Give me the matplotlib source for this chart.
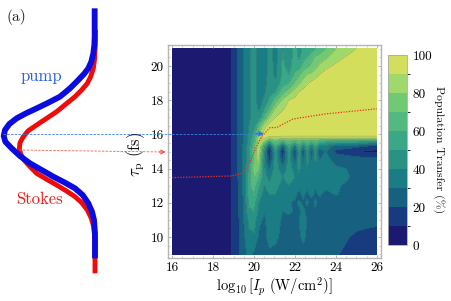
import numpy as np
import matplotlib
matplotlib.use("Agg")
import matplotlib.pyplot as plt
from matplotlib.colors import ListedColormap, BoundaryNorm

plt.rcParams['font.family'] = ['cmr10', 'DejaVu Serif']
plt.rcParams['mathtext.fontset'] = 'cm'
plt.rcParams['axes.unicode_minus'] = False

W, H = 452, 301
intensity = [16,18.85,18.95,19.25,19.5,19.75,20,20.25,20.5,20.75,21.05,21.4,21.7,22,22.2,22.4,22.6,22.8,23,23.2,23.5,24,24.5,25,25.5,26]
tau = [9,10,10.5,11,11.5,12,12.5,13,13.5,14,14.5,15,15.3,15.6,15.8,16,16.5,17,17.5,18,18.5,19,19.5,20,20.5,21]
transfer = [
[5,5,15,18,26,33,28,24,24,28,26,23,23,23,23,25,24,23,23,22,22,21,18,15,15,15],
[5,5,15,19,28,38,38,28,27,34,33,26,25,27,28,33,28,25,24,24,23,22,21,18,18,18],
[5,5,15,19,29,40,42,30,27,35,34,27,26,27,29,35,28,25,25,24,24,23,22,21,20,19],
[5,5,15,19,30,42,45,33,28,35,36,28,27,30,30,36,29,25,25,25,24,24,24,23,23,23],
[5,5,15,20,30,48,50,37,31,36,37,30,32,29,28,33,26,25,28,26,25,24,25,24,24,24],
[5,5,15,20,31,52,55,40,33,38,38,34,31,28,32,28,32,25,33,25,28,25,26,25,24,24],
[5,5,15,20,32,55,60,46,36,40,40,36,33,33,26,33,27,34,27,32,26,31,26,27,25,24],
[5,5,15,20,32,58,65,52,40,42,42,38,40,35,33,34,32,35,32,34,33,31,29,27,25,25],
[5,5,15,21,33,56,72,60,43,38,45,40,42,40,38,36,34,32,35,33,35,33,31,28,26,26],
[5,5,15,21,33,52,76,72,42,28,46,33,44,36,42,34,40,33,36,33,33,31,30,28,27,26],
[5,5,15,21,32,48,74,84,38,16,48,20,46,25,46,28,44,30,42,30,32,28,27,25,25,25],
[5,5,15,21,32,46,72,88,42,8,50,9,50,15,48,20,46,24,44,24,30,17,14,12,8,8],
[5,5,15,21,32,45,68,90,55,18,58,24,56,32,56,36,54,36,52,35,35,25,25,22,18,14],
[5,5,15,21,31,44,62,90,80,58,72,60,70,62,70,62,68,62,66,60,58,55,55,55,52,50],
[5,5,15,21,31,43,60,88,92,86,86,85,85,85,85,85,85,85,85,85,85,85,85,85,85,85],
[5,5,15,21,30,42,55,80,95,95,95,95,95,95,95,95,95,95,95,95,95,95,95,95,95,95],
[5,5,15,21,30,40,45,66,86,95,95,95,95,95,95,95,95,95,95,95,95,95,95,95,95,95],
[5,5,15,21,30,38,44,44,62,80,90,94,95,95,95,95,95,95,95,95,95,95,95,95,95,95],
[5,5,15,21,30,38,44,38,50,62,82,89,93,95,95,95,95,95,95,95,95,95,95,95,95,95],
[5,5,15,21,30,38,44,36,42,52,66,82,90,93,95,95,95,95,95,95,95,95,95,95,95,95],
[5,5,15,21,30,38,46,35,38,47,50,66,76,84,90,93,95,95,95,95,95,95,95,95,95,95],
[5,5,15,21,30,36,46,34,35,46,42,56,60,72,78,84,89,92,95,95,95,95,95,95,95,95],
[5,5,15,21,30,36,46,34,34,45,38,52,50,62,68,76,80,82,86,90,94,95,95,95,95,95],
[5,5,15,21,30,36,46,34,34,45,37,52,46,56,55,64,68,72,76,82,87,92,95,95,95,95],
[5,5,15,21,30,36,46,34,33,45,36,51,44,55,48,56,60,66,72,74,78,86,91,94,95,95],
[5,5,15,21,30,36,46,34,33,45,36,50,42,54,46,52,50,56,60,64,70,80,85,90,93,95],
]
levels = [0,10,20,30,40,50,60,70,80,90,100]
band_colors = ['#1c1a70','#183a7e','#17607f','#1a7d85','#2a9285','#3aa786','#52ba80','#72c973','#a0d96b','#d2de5c']
ctr_intensity = [16,18.9,19.46,19.7,20.05,20.37,20.78,21.1,21.9,23.5,26]
ctr_tau = [13.47,13.57,13.74,14.1,15.1,15.87,16.4,16.4,16.9,17.2,17.5]
pump_x = [284,284,284,283,280,274,265,252,235,210,180,145,110,78,50,28,15,11,16,35,60,90,125,160,195,225,248,265,276,282,285,285]
pump_y = [25,70,110,135,160,185,205,222,240,265,290,308,325,340,355,372,390,408,425,445,468,490,510,530,548,565,585,610,635,660,700,775]
stokes_x = [286,286,284,280,272,262,245,225,198,170,140,110,85,70,60,58,62,72,90,110,140,170,198,225,245,262,274,281,285,285]
stokes_y = [90,130,175,205,230,250,270,290,312,335,355,375,392,410,428,445,462,480,500,520,538,555,572,590,608,630,655,680,720,820]

fig = plt.figure(figsize=(W/100, H/100), dpi=100)
ax = fig.add_axes([168/W, 1-258/H, 213/W, 213/H])
cmap = ListedColormap(band_colors)
norm = BoundaryNorm(levels, cmap.N)
cs = ax.contourf(intensity, tau, transfer, levels=levels, cmap=cmap, norm=norm)
ax.contour(intensity, tau, transfer, levels=levels[1:-1], colors='#33415c', linewidths=0.3, alpha=0.45)
ax.set_xlim(15.8, 26.2)
ax.set_ylim(8.77, 21.23)
ax.set_xticks([16,18,20,22,24,26])
ax.set_xticklabels(['16','18','20','22','24','26'], fontsize=9.5)
ax.set_yticks([10,12,14,16,18,20])
ax.set_yticklabels(['10','12','14','16','18','20'], fontsize=9.5)
ax.set_xticks(np.arange(16,26.1,0.5), minor=True)
ax.set_yticks(np.arange(9,21.1,0.5), minor=True)
ax.tick_params(which='major', direction='in', length=2.5, width=0.5, color='#999999', top=True, right=True, pad=3)
ax.tick_params(which='minor', direction='in', length=1.2, width=0.4, color='#aaaaaa', top=True, right=True)
for s in ax.spines.values():
    s.set_color('#b5b5b5'); s.set_linewidth(1.0)
ax.set_xlabel(r'$\log_{10}[I_p\ \mathrm{(W/cm^2)}]$', fontsize=10.5, labelpad=1)
ax.plot(ctr_intensity, ctr_tau, color='#f0301e', lw=0.9, ls=(0,(1,1.2)), zorder=6)

cax = fig.add_axes([388/W, 1-245/H, 19/W, 190/H])
cb = fig.colorbar(cs, cax=cax, ticks=[0,20,40,60,80,100])
cb.ax.set_yticklabels(['0','20','40','60','80','100'], fontsize=9.5)
cb.ax.tick_params(length=0, pad=4)
cb.outline.set_edgecolor('#aaaaaa'); cb.outline.set_linewidth(0.6)

ov = fig.add_axes([0,0,1,1], zorder=5)
ov.set_xlim(0, W*3); ov.set_ylim(H*3, 0); ov.axis('off'); ov.patch.set_alpha(0)
ov.plot(stokes_x, stokes_y, color='#f00a0a', lw=3.5, solid_capstyle='butt', solid_joinstyle='round')
ov.plot(pump_x, pump_y, color='#0b0be0', lw=4.2, solid_capstyle='butt', solid_joinstyle='round')
ov.text(21, 50, '(a)', fontsize=11, va='center', ha='left', color='#222222')
ov.text(124, 228, 'pump', fontsize=12, color='#2a62e0', ha='center', va='center')
ov.text(119, 598, 'Stokes', fontsize=12, color='#f01818', ha='center', va='center')
ov.text(408, 462, r'$\mathbf{\tau}_{\mathrm{p}}$ (fs)', fontsize=12, rotation=90, ha='center', va='center', color='#111111')
ov.text(1316, 450, 'Population Transfer (%)', fontsize=8.5, rotation=270, ha='center', va='center', color='#111111')
ov.plot([10,785],[401,401], color='#3f80e0', lw=0.6, ls=(0,(3,1.5)))
ov.annotate('', xy=(792,401), xytext=(770,401), arrowprops=dict(arrowstyle='->', color='#1f78f0', lw=1.0, shrinkA=0, shrinkB=0, mutation_scale=7))
ov.plot([58,490],[450,456], color='#f2634e', lw=0.6, ls=(0,(3,1.5)))
ov.annotate('', xy=(497,456), xytext=(478,456), arrowprops=dict(arrowstyle='->', color='#f2533e', lw=0.8, shrinkA=0, shrinkB=0, mutation_scale=7))

fig.savefig('out.png', dpi=100)
